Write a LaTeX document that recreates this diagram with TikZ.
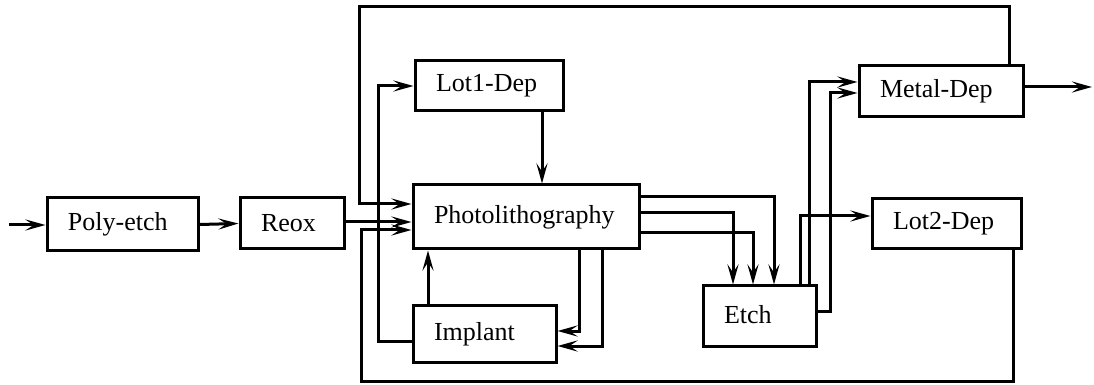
\documentclass[tikz,border=0pt]{standalone}
\usepackage{fontspec}
\setmainfont{Liberation Serif}
\usetikzlibrary{arrows.meta}
\tikzset{
  box/.style={draw, line width=1.5pt, inner xsep=10.5pt, inner ysep=0pt, align=left,
              font=\fontsize{13}{15}\selectfont, anchor=center},
  arr/.style={line width=1.5pt, -{Stealth[length=10pt,width=5.5pt,inset=4pt]}}
}
\begin{document}
\begin{tikzpicture}[x=0.5pt,y=-0.5pt]
\useasboundingbox (0,0) rectangle (1094,385);
% boxes
\node[box, text width=54.5pt, minimum height=26.5pt] (polyetch) at (122.5,224.5) {Poly-etch};
\node[box, text width=31pt, minimum height=25.5pt] (reox) at (292,223.5) {Reox};
\node[box, text width=92pt, minimum height=32pt] (photo) at (526,217) {\raisebox{2pt}{Photolithography}};
\node[box, text width=53pt, minimum height=25pt] (lot1) at (489,86) {Lot1-Dep};
\node[box, text width=50.5pt, minimum height=28pt] (implant) at (484.5,334) {Implant};
\node[box, text width=35.5pt, minimum height=30pt] (etch) at (759.5,316) {\raisebox{2pt}{Etch}};
\node[box, text width=61pt, minimum height=25.5pt] (metal) at (941,91.5) {Metal-Dep};
\node[box, text width=53.5pt, minimum height=25pt] (lot2) at (946.5,224) {Lot2-Dep};
\coordinate (in) at (9,225);
\coordinate (out) at (1092,87);
% connectors
\draw[arr] (in) -- (polyetch.west |- in);
\draw[arr] (polyetch.east) -- (reox.west);
\draw[arr] (reox.east |- 0,222) -- (photo.west |- 0,222);
\draw[arr] (metal.north -| 1009,0) |- (359,7) |- (photo.west |- 0,204);
\draw[arr] (lot2.south -| 1013,0) |- (361,381) |- (photo.west |- 0,230);
\draw[arr] (implant.west |- 0,341) -| (378,86) -- (lot1.west);
\draw[arr] (lot1.south -| 542,0) -- (photo.north -| 542,0);
\draw[arr] (implant.north -| 428,0) -- (photo.south -| 428,0);
\draw[arr] (photo.south -| 579,0) |- (implant.east |- 0,331);
\draw[arr] (photo.south -| 602,0) |- (implant.east |- 0,346);
\draw[arr] (photo.east |- 0,197) -| (etch.north -| 774,0);
\draw[arr] (photo.east |- 0,213) -| (etch.north -| 733,0);
\draw[arr] (photo.east |- 0,233) -| (etch.north -| 753,0);
\draw[arr] (etch.north -| 809,0) |- (metal.west |- 0,82);
\draw[arr] (etch.east |- 0,312) -| (830,93) -- (metal.west |- 0,93);
\draw[arr] (etch.north -| 800,0) |- (lot2.west |- 0,216);
\draw[arr] (metal.east |- 0,87) -- (out);
\end{tikzpicture}
\end{document}
